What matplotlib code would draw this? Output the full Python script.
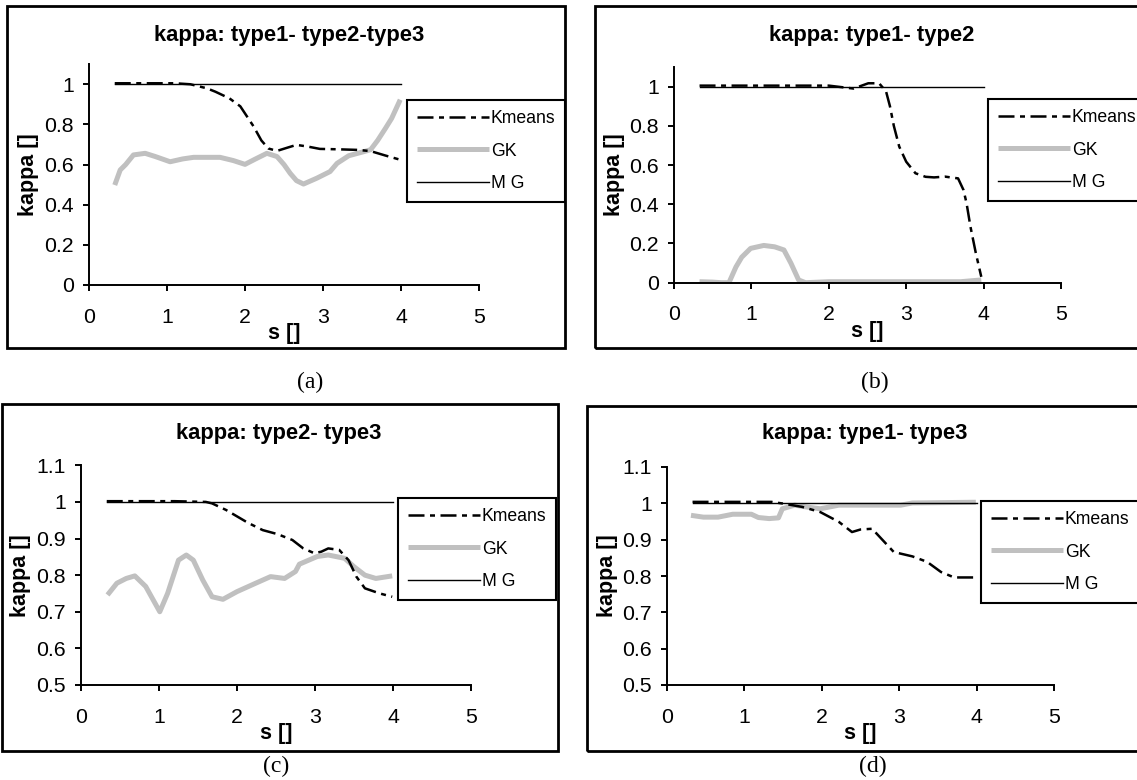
import numpy as np
import matplotlib
matplotlib.use("Agg")
import matplotlib.pyplot as plt
from matplotlib.patches import Rectangle
from matplotlib.lines import Line2D
from matplotlib.ticker import FuncFormatter

plt.rcParams['font.family'] = ['Liberation Sans', 'DejaVu Sans']

# ---------------------------------
# Data
# ---------------------------------
a_km_s = [0.33, 0.7, 1.1, 1.3, 1.51, 1.62, 1.8, 1.94, 2.11, 2.21, 2.30, 2.41, 2.55, 2.66, 2.8, 2.96, 3.2, 3.45, 3.61, 3.8, 3.99]
a_km_k = [1.005, 1.005, 1.005, 1.0, 0.98, 0.963, 0.93, 0.89, 0.79, 0.72, 0.68, 0.668, 0.685, 0.698, 0.69, 0.678, 0.676, 0.673, 0.667, 0.645, 0.624]
a_gk_s = [0.33, 0.40, 0.47, 0.57, 0.72, 0.85, 1.04, 1.2, 1.34, 1.5, 1.68, 1.85, 2.0, 2.13, 2.28, 2.41, 2.5, 2.58, 2.66, 2.75,
          2.92, 3.09, 3.18, 3.33, 3.52, 3.61, 3.70, 3.80, 3.88, 3.99]
a_gk_k = [0.498, 0.573, 0.60, 0.648, 0.656, 0.64, 0.614, 0.628, 0.636, 0.636, 0.636, 0.62, 0.601, 0.627, 0.656, 0.64, 0.60, 0.556, 0.52, 0.503,
          0.532, 0.565, 0.606, 0.644, 0.664, 0.674, 0.72, 0.78, 0.83, 0.923]

b_km_s = [0.33, 1.0, 1.5, 2.0, 2.32, 2.51, 2.65, 2.74, 2.79, 2.84, 2.91, 3.0, 3.12, 3.25, 3.36, 3.5, 3.67, 3.74, 3.78, 3.83, 3.9, 3.97]
b_km_k = [1.005, 1.005, 1.005, 1.005, 0.99, 1.017, 1.017, 0.975, 0.90, 0.80, 0.694, 0.617, 0.558, 0.54, 0.537, 0.541, 0.532, 0.473, 0.405, 0.286, 0.15, 0.03]
b_gk_s = [0.33, 0.5, 0.61, 0.71, 0.80, 0.875, 0.99, 1.16, 1.3, 1.42, 1.51, 1.61, 1.70, 2.0, 3.0, 3.7, 3.97]
b_gk_k = [0.005, 0.003, 0.0, 0.0, 0.08, 0.13, 0.175, 0.19, 0.183, 0.167, 0.10, 0.014, 0.0, 0.005, 0.005, 0.005, 0.014]

c_km_s = [0.33, 0.8, 1.2, 1.6, 1.68, 1.86, 2.14, 2.33, 2.52, 2.71, 2.85, 2.99, 3.08, 3.17, 3.31, 3.43, 3.53, 3.64, 3.83, 3.99]
c_km_k = [1.002, 1.002, 1.002, 1.0, 0.996, 0.978, 0.943, 0.923, 0.912, 0.896, 0.873, 0.860, 0.864, 0.873, 0.869, 0.841, 0.796, 0.764, 0.750, 0.741]
c_gk_s = [0.34, 0.46, 0.58, 0.69, 0.83, 0.95, 1.01, 1.11, 1.25, 1.35, 1.44, 1.56, 1.68, 1.82, 2.0, 2.24, 2.43, 2.61, 2.75, 2.80,
          3.03, 3.17, 3.38, 3.50, 3.64, 3.78, 3.99]
c_gk_k = [0.746, 0.778, 0.791, 0.798, 0.769, 0.723, 0.700, 0.750, 0.841, 0.855, 0.841, 0.787, 0.741, 0.734, 0.755, 0.778, 0.796, 0.791, 0.810, 0.830,
          0.851, 0.855, 0.846, 0.823, 0.800, 0.791, 0.798]

d_km_s = [0.33, 0.8, 1.35, 1.51, 1.75, 1.98, 2.22, 2.39, 2.50, 2.65, 2.79, 2.93, 3.17, 3.36, 3.54, 3.71, 3.99]
d_km_k = [1.004, 1.004, 1.004, 0.999, 0.99, 0.976, 0.949, 0.921, 0.928, 0.930, 0.898, 0.866, 0.854, 0.839, 0.811, 0.796, 0.796]
d_gk_s = [0.31, 0.47, 0.66, 0.85, 1.09, 1.18, 1.32, 1.44, 1.49, 1.65, 1.80, 1.98, 2.22, 2.69, 3.02, 3.17, 3.99]
d_gk_k = [0.967, 0.962, 0.962, 0.970, 0.970, 0.961, 0.958, 0.960, 0.985, 0.995, 0.990, 0.985, 0.995, 0.995, 0.995, 1.001, 1.003]

mg_s = [0.33, 4.0]
mg_k = [1.0, 1.0]

titles = ["kappa: type1- type2-type3", "kappa: type1- type2", "kappa: type2- type3", "kappa: type1- type3"]
letters = ["(a)", "(b)", "(c)", "(d)"]
series_names = ["Kmeans", "GK", "M G"]
x_ticks = [0, 1, 2, 3, 4, 5]
y_ticks_top = [0, 0.2, 0.4, 0.6, 0.8, 1.0]
y_ticks_bottom = [0.5, 0.6, 0.7, 0.8, 0.9, 1.0, 1.1]

W, H = 1137, 780
fig = plt.figure(figsize=(W / 100, H / 100), dpi=100)


def fx(x):
    return x / W


def fy(y):
    return 1 - y / H


km_style = dict(color='black', lw=1.8, dashes=(6.4, 2.2, 2.0, 2.2), zorder=4)
gk_style = dict(color='#c0c0c0', lw=3.6, solid_capstyle='butt', zorder=2)
mg_style = dict(color='black', lw=1.0, zorder=3)

# pixel layout: axes box (left, top, right, bottom), frame, legend corner, title, letter
panels = [
    dict(ax=(89, 64.2, 479, 285), frame=(7, 6, 565, 348), leg=(407, 100), title=(289, 35), letter=(310, 382),
         km=(a_km_s, a_km_k), gk=(a_gk_s, a_gk_k), ylim=(0, 1.1), yt=y_ticks_top),
    dict(ax=(674, 67, 1061, 282.7), frame=(595, 6, 1150, 348), leg=(988, 99), title=(872, 35), letter=(875, 382),
         km=(b_km_s, b_km_k), gk=(b_gk_s, b_gk_k), ylim=(0, 1.1), yt=y_ticks_top),
    dict(ax=(81, 465.3, 471, 685), frame=(2, 404, 558, 751), leg=(398, 498), title=(279, 433), letter=(276, 766),
         km=(c_km_s, c_km_k), gk=(c_gk_s, c_gk_k), ylim=(0.5, 1.1), yt=y_ticks_bottom),
    dict(ax=(667, 467, 1054, 685), frame=(587, 406, 1150, 751), leg=(981, 501), title=(865, 433), letter=(873, 766),
         km=(d_km_s, d_km_k), gk=(d_gk_s, d_gk_k), ylim=(0.5, 1.1), yt=y_ticks_bottom),
]

fmt = FuncFormatter(lambda v, pos: f"{v:g}")

for i, p in enumerate(panels):
    l, t, r, b = p['ax']
    ax = fig.add_axes([fx(l), fy(b), (r - l) / W, (b - t) / H])

    ax.plot(*p['km'], **km_style)
    ax.plot(*p['gk'], **gk_style)
    ax.plot(mg_s, mg_k, **mg_style)

    ax.set_xlim(0, 5)
    ax.set_ylim(*p['ylim'])
    ax.set_xticks(x_ticks)
    ax.set_yticks(p['yt'])
    ax.xaxis.set_major_formatter(fmt)
    ax.yaxis.set_major_formatter(fmt)
    ax.tick_params(direction='out', length=4.3, width=1.4, labelsize=15.3)
    ax.tick_params(axis='x', pad=12)
    ax.tick_params(axis='y', pad=6.5)
    for side in ['top', 'right']:
        ax.spines[side].set_visible(False)
    for side in ['left', 'bottom']:
        ax.spines[side].set_linewidth(1.4)

    # axis labels sit low, level with the tick labels as in the source
    ax.set_xlabel("s []", fontsize=15.5, fontweight='bold')
    ax.xaxis.set_label_coords(0.5, -49 / (b - t))
    ax.xaxis.label.set_va('center')
    ax.set_ylabel("kappa []", fontsize=15.5, fontweight='bold')
    ax.yaxis.set_label_coords(-0.155, 0.5)
    ax.yaxis.label.set_va('center')

    handles = [Line2D([], [], **km_style), Line2D([], [], **gk_style), Line2D([], [], **mg_style)]
    leg = ax.legend(handles, series_names, loc='upper left', bbox_to_anchor=(fx(p['leg'][0]), fy(p['leg'][1])),
                    bbox_transform=fig.transFigure, borderaxespad=0, fancybox=False, framealpha=1,
                    edgecolor='black', fontsize=12.7, handlelength=4.1, handletextpad=0.1,
                    labelspacing=0.9, borderpad=0.55)
    leg.get_frame().set_linewidth(1.5)

    fl, ft, fr, fb = p['frame']
    fig.add_artist(Rectangle((fx(fl), fy(fb)), (fr - fl) / W, (fb - ft) / H, transform=fig.transFigure,
                             fill=False, edgecolor='black', lw=2, clip_on=False))
    fig.text(fx(p['title'][0]), fy(p['title'][1]), titles[i], ha='center', va='center',
             fontsize=15.8, fontweight='bold')
    fig.text(fx(p['letter'][0]), fy(p['letter'][1]), letters[i], ha='center', va='center',
             fontsize=17, family='Liberation Serif')

fig.savefig("out.png", dpi=100)
